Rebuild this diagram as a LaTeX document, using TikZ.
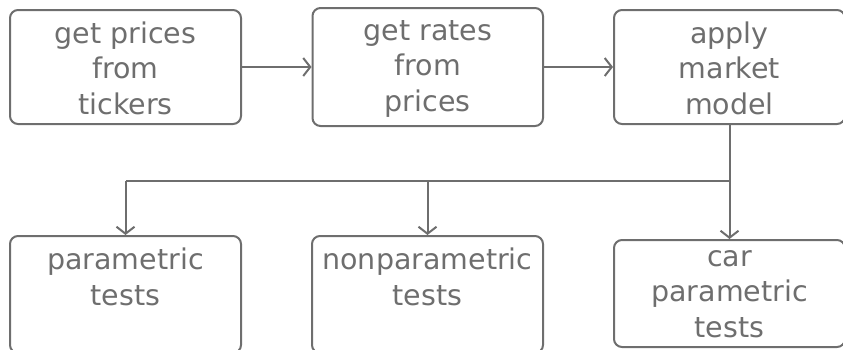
\documentclass[tikz,border=0pt]{standalone}
\usepackage{fontspec}
\setmainfont{DejaVu Sans}
\usetikzlibrary{arrows.meta}
\definecolor{ink}{HTML}{6E6E6E}
\begin{document}
\begin{tikzpicture}[x=1pt, y=-1pt,
  box/.style={draw=ink, line width=2pt, rounded corners=8pt, minimum width=231pt, inner sep=0pt},
  txt/.style={text=ink, align=center, anchor=base, inner sep=0pt,
    font=\fontsize{28.5}{35.5}\selectfont},
  arr/.style={draw=ink, line width=2pt, -{Straight Barb[length=7pt, width=18pt, line width=2pt]}},
  link/.style={draw=ink, line width=2pt}]
\useasboundingbox (0,0) rectangle (843,349);

% top row: processing steps (text anchored at the baseline of its last line)
\node[box, minimum height=114pt] (b1) at (125.5,67) {};
\node[box, minimum height=118pt, minimum width=230.5pt] (b2) at (427.75,67) {};
\node[box, minimum height=114pt] (b3) at (729.5,67) {};
\node[txt] (t1) at (125.5,114) {get prices\\from\\tickers};
\node[txt] (t2) at (427.75,111) {get rates\\from\\prices};
\node[txt] (t3) at (729.5,114) {apply\\market\\model};

% bottom row: tests
\node[box, minimum height=117pt] (b4) at (125.5,294.5) {};
\node[box, minimum height=117pt] (b5) at (427.5,294.5) {};
\node[box, minimum height=107pt] (b6) at (729.5,293.5) {};
\node[txt] (t4) at (125.5,305) {parametric\\tests};
\node[txt] (t5) at (427.5,305) {nonparametric\\tests};
\node[txt] (t6) at (729.5,337) {car\\parametric\\tests};

% connectors
\draw[arr] (b1) -- (b2);
\draw[arr] (b2) -- (b3);
\draw[link] (b3.south) -- ++(0,56) coordinate (j);
\draw[link] (j) -- (j -| b4.north);
\draw[arr] (j -| b4.north) -- (b4.north);
\draw[arr] (j -| b5.north) -- (b5.north);
\draw[arr] (j) -- (b6.north);
\end{tikzpicture}
\end{document}
